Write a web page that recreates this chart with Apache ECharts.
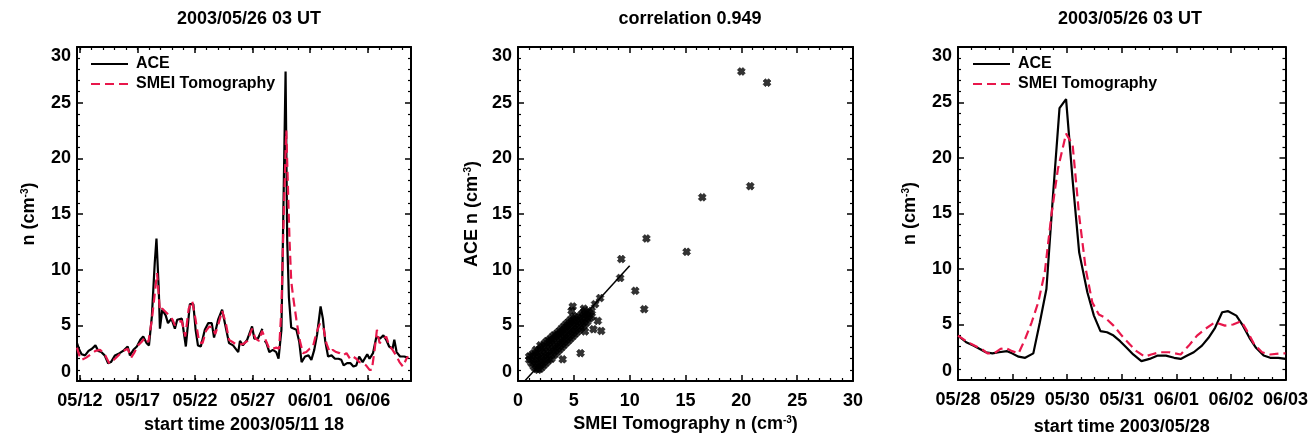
<!DOCTYPE html>
<html><head><meta charset="utf-8">
<script src="https://cdn.jsdelivr.net/npm/echarts@6/dist/echarts.min.js"></script>
<style>html,body{margin:0;padding:0;background:#fff}#c{width:1311px;height:441px}</style>
</head><body><div id="c"></div>
<script>
// ---------------- DATA ----------------
const titleTexts = ['2003/05/26 03 UT', 'correlation 0.949', '2003/05/26 03 UT'];
const seriesNames = ['ACE', 'SMEI Tomography'];

// Panel 1: days since 2003/05/11 18 UT
const p1MajorDays = [0.25, 5.25, 10.25, 15.25, 20.25, 25.25];
const p1MajorLabels = ['05/12', '05/17', '05/22', '05/27', '06/01', '06/06'];
const p1MinorDays = [0.25,1.25,2.25,3.25,4.25,5.25,6.25,7.25,8.25,9.25,10.25,11.25,12.25,13.25,14.25,15.25,16.25,17.25,18.25,19.25,20.25,21.25,22.25,23.25,24.25,25.25,26.25,27.25,28.25];
const p1XName = 'start time 2003/05/11 18';

const aceT1 = [0.0,0.2,0.4,0.7,1.0,1.3,1.6,1.85,2.1,2.4,2.7,2.95,3.3,3.7,4.0,4.4,4.6,4.9,5.2,5.5,5.75,6.05,6.25,6.5,6.75,6.9,7.1,7.2,7.4,7.7,7.9,8.2,8.5,8.7,9.1,9.2,9.45,9.8,10.1,10.3,10.5,10.75,11.1,11.4,11.7,11.9,12.25,12.6,12.9,13.2,13.55,14.0,14.15,14.4,14.77,15.2,15.4,15.7,16.1,16.2,16.3,16.45,16.7,17.0,17.3,17.5,17.75,17.88,18.11,18.25,18.4,18.6,18.75,19.05,19.3,19.5,19.8,20.1,20.35,20.6,20.85,21.15,21.35,21.55,21.8,22.1,22.4,22.7,22.95,23.15,23.45,23.75,24.0,24.25,24.5,24.8,25.2,25.4,25.7,26.0,26.3,26.6,26.85,27.1,27.4,27.55,27.75,28.05,28.4,28.75];
const aceN1 = [3.4,2.8,2.4,2.3,2.7,2.9,3.2,2.7,2.6,2.3,1.6,1.7,2.3,2.5,2.7,3.1,2.3,2.8,3.1,3.7,4.0,3.4,3.2,5.8,10.6,12.8,8.2,4.7,6.4,5.9,5.2,5.6,4.7,5.5,5.6,4.9,3.1,6.9,6.9,4.6,3.2,3.1,4.6,5.2,5.2,3.9,5.5,6.4,4.9,3.4,3.2,2.6,3.6,3.2,3.7,4.9,3.8,3.8,4.7,null,3.6,3.4,2.6,2.8,2.6,2.0,4.6,12.7,27.8,12.7,7.5,4.8,4.7,4.6,3.5,1.7,2.2,2.3,1.9,2.8,4.2,6.7,5.6,3.6,2.2,2.3,2.0,2.0,1.9,1.4,1.6,1.6,1.3,1.4,2.2,1.7,2.4,2.0,2.5,4.0,3.8,4.1,3.7,3.1,2.9,3.7,2.6,2.2,2.2,2.1];

const smeiT1 = [0.0,0.2,0.4,0.8,1.2,1.6,2.0,2.4,2.8,3.3,3.7,4.0,4.4,4.7,5.0,5.3,5.6,5.9,6.2,6.5,6.95,7.2,7.4,7.7,8.0,8.3,8.5,8.8,9.1,9.4,9.7,10.0,10.3,10.6,10.9,11.2,11.5,11.8,12.0,12.3,12.6,12.9,13.2,13.5,13.8,14.1,14.4,14.8,15.2,15.5,15.8,16.07,16.45,16.7,17.0,17.3,17.55,17.75,17.95,18.17,18.45,18.6,18.76,19.05,19.33,19.62,19.91,20.2,20.49,20.78,21.07,21.36,21.65,21.94,22.2,22.5,22.8,23.1,23.4,23.7,23.96,24.25,24.5,24.8,25.1,25.4,25.6,25.84,26.04,26.27,26.56,26.85,27.1,27.4,27.7,28.0,28.3,28.6,28.75];
const smeiN1 = [3.0,2.3,1.9,2.1,2.4,2.7,2.8,2.4,1.6,2.0,2.4,2.7,2.9,2.1,2.6,3.2,3.5,3.9,3.5,5.5,9.7,6.3,6.5,6.2,5.9,5.5,5.0,5.3,5.4,4.0,6.5,7.2,5.5,3.5,3.4,4.5,4.9,4.8,4.2,5.2,6.3,5.3,3.7,3.5,3.3,3.3,3.3,3.6,4.7,3.8,3.6,4.5,3.5,2.9,2.9,3.0,2.9,6.5,15.0,22.5,12.7,9.0,7.6,5.5,3.7,2.5,2.6,2.9,3.1,4.3,5.1,5.0,3.4,2.6,2.8,2.6,2.5,2.3,2.5,2.0,2.2,2.0,1.7,1.6,1.4,1.0,1.0,2.8,4.6,3.4,3.7,4.0,3.2,2.8,2.3,1.7,1.3,2.0,2.2];

// Panel 2: scatter (SMEI tomography n, ACE n)
const scatX = [1.0,1.0,1.2,1.2,1.4,1.4,1.4,1.6,1.6,1.6,1.6,1.8,1.8,1.8,1.8,2.0,2.0,2.0,2.0,2.0,2.2,2.2,2.2,2.2,2.4,2.4,2.4,2.4,2.6,2.6,2.6,2.6,2.8,2.8,2.8,2.8,3.0,3.0,3.0,3.0,3.2,3.2,3.2,3.2,3.4,3.4,3.4,3.4,3.6,3.6,3.6,3.6,3.8,3.8,3.8,3.8,4.0,4.0,4.0,4.0,4.2,4.2,4.2,4.2,4.4,4.4,4.4,4.4,4.6,4.6,4.6,4.6,4.8,4.8,4.8,4.8,5.0,5.0,5.0,5.0,5.2,5.2,5.2,5.4,5.4,5.4,5.6,5.6,5.6,5.8,5.8,5.8,6.0,6.0,6.0,6.2,6.2,6.4,6.4,6.6,6.6,
  4.8,4.9,5.9,6.0,6.9,7.35,7.15,7.45,6.75,5.6,4.0,9.15,9.25,10.5,11.3,11.5,15.1,16.5,20.8,20.0,22.3];
const scatY = [1.9,2.2,1.6,2.3,1.3,1.9,2.5,1.1,1.7,2.3,2.8,1.0,1.5,2.1,2.7,1.1,1.6,2.2,2.9,3.2,1.3,1.9,2.5,3.1,1.5,2.1,2.7,3.4,1.7,2.3,3.0,3.6,1.9,2.5,3.2,3.7,2.0,2.7,3.4,3.9,2.3,2.9,3.6,4.1,2.5,3.1,3.8,4.2,2.7,3.3,4.0,4.4,2.9,3.5,4.2,4.6,3.1,3.7,4.3,4.8,3.3,3.9,4.5,5.0,3.5,4.1,4.7,5.2,3.7,4.3,4.9,5.4,3.9,4.5,5.1,5.6,4.1,4.7,5.3,5.8,4.3,4.9,5.5,4.5,5.1,5.7,4.7,5.3,5.9,4.9,5.5,6.1,5.1,5.7,6.3,5.3,5.9,5.6,6.1,5.8,6.3,
  6.3,6.7,6.5,4.45,6.9,7.45,5.4,4.5,4.65,2.5,1.95,9.25,10.95,8.1,6.45,12.8,11.6,16.5,17.5,27.8,26.8];
const fitX = [0.6, 10.0];
const fitY = [0.0, 10.35];
const p2XName = 'SMEI Tomography n (cm{s|-3})';
const p2YName = 'ACE n (cm{s|-3})';

// Panel 3: days since 2003/05/28 00 UT
const p3Labels = ['05/28', '05/29', '05/30', '05/31', '06/01', '06/02', '06/03'];
const p3XName = 'start time 2003/05/28';
const aceT3 = [0.0,0.15,0.28,0.4,0.51,0.63,0.75,0.9,0.99,1.11,1.23,1.38,1.5,1.62,1.74,1.86,1.98,2.1,2.22,2.37,2.49,2.61,2.73,2.85,2.97,3.09,3.21,3.36,3.51,3.66,3.81,3.96,4.08,4.2,4.32,4.47,4.59,4.71,4.84,4.95,5.1,5.22,5.34,5.46,5.6,5.72,5.87,6.0];
const aceN3 = [4.0,3.4,3.1,2.8,2.5,2.4,2.5,2.6,2.4,2.1,2.0,2.4,5.2,8.2,16.6,24.5,25.3,18.0,11.5,7.9,5.8,4.4,4.3,4.0,3.5,2.9,2.3,1.7,1.9,2.2,2.2,2.0,1.9,2.2,2.5,3.1,3.8,4.7,6.1,6.2,5.8,4.9,3.8,2.9,2.2,2.0,2.0,1.9];
const smeiT3 = [0.0,0.15,0.3,0.43,0.54,0.66,0.78,0.87,0.99,1.11,1.23,1.35,1.47,1.59,1.71,1.83,1.98,2.1,2.22,2.34,2.46,2.58,2.7,2.85,3.0,3.15,3.27,3.42,3.54,3.69,3.87,4.08,4.23,4.38,4.53,4.71,4.89,5.04,5.19,5.31,5.43,5.57,5.72,5.9,6.0];
const smeiN3 = [4.0,3.5,3.1,2.8,2.4,2.4,2.8,2.9,2.6,2.4,3.7,5.2,7.0,9.7,14.8,19.0,22.2,21.2,14.8,10.0,7.0,5.9,5.6,4.9,4.0,3.2,2.6,2.1,2.3,2.5,2.5,2.3,3.1,4.0,4.6,5.2,4.9,5.0,5.3,4.3,3.2,2.5,2.3,2.4,2.4];

const yName = 'n (cm{s|-3})';

// ---------------- OPTION ----------------
const FONT = '"Liberation Sans", Arial, Helvetica, sans-serif';
const RED = '#e8174b';
const pair = (a, b) => a.map((v, i) => [v, b[i]]);
const nameStyle = {
  fontFamily: FONT, fontSize: 18, fontWeight: 'bold', color: '#000',
  rich: { s: { fontFamily: FONT, fontSize: 10, fontWeight: 'bold', color: '#000', verticalAlign: 'top' } }
};
const lblStyle = { fontFamily: FONT, fontSize: 18, fontWeight: 'bold', color: '#000' };
const lineBox = { show: true, onZero: false, lineStyle: { color: '#000', width: 2 } };
const majTick = (extra) => Object.assign({ show: true, inside: true, length: 6, lineStyle: { color: '#000', width: 1.5 } }, extra || {});
const minTick = (n) => ({ show: true, splitNumber: n, length: 3, lineStyle: { color: '#000', width: 1.2 } });

const grids = [
  { left: 77, top: 47, width: 334, height: 334 },
  { left: 518, top: 47, width: 335, height: 334 },
  { left: 958, top: 47, width: 334, height: 334 }
];

function findLabel(v, days, labels) {
  for (let i = 0; i < days.length; i++) if (Math.abs(days[i] - v) < 1e-6) return labels[i];
  return '';
}

const xAxes = [
  // panel 1
  { type: 'value', gridIndex: 0, position: 'bottom', min: 0, max: 29, axisLine: lineBox,
    axisTick: majTick({ customValues: p1MajorDays }),
    axisLabel: Object.assign({ customValues: p1MajorDays, margin: 11, formatter: v => findLabel(v, p1MajorDays, p1MajorLabels) }, lblStyle),
    splitLine: { show: false }, name: p1XName, nameLocation: 'middle', nameGap: 35, nameTextStyle: nameStyle },
  { type: 'value', gridIndex: 0, position: 'bottom', min: 0, max: 29, axisLine: { show: false, onZero: false },
    axisTick: { show: true, inside: true, length: 3, customValues: p1MinorDays, lineStyle: { color: '#000', width: 1.2 } },
    axisLabel: { show: false }, splitLine: { show: false } },
  { type: 'value', gridIndex: 0, position: 'top', min: 0, max: 29, axisLine: lineBox,
    axisTick: majTick({ customValues: p1MajorDays }), axisLabel: { show: false }, splitLine: { show: false } },
  { type: 'value', gridIndex: 0, position: 'top', min: 0, max: 29, axisLine: { show: false, onZero: false },
    axisTick: { show: true, inside: true, length: 3, customValues: p1MinorDays, lineStyle: { color: '#000', width: 1.2 } },
    axisLabel: { show: false }, splitLine: { show: false } },
  // panel 2
  { type: 'value', gridIndex: 1, position: 'bottom', min: 0, max: 30, interval: 5, axisLine: lineBox,
    axisTick: majTick(), minorTick: minTick(5), axisLabel: Object.assign({ margin: 11 }, lblStyle),
    splitLine: { show: false }, name: p2XName, nameLocation: 'middle', nameGap: 28, nameTextStyle: nameStyle },
  { type: 'value', gridIndex: 1, position: 'top', min: 0, max: 30, interval: 5, axisLine: lineBox,
    axisTick: majTick(), minorTick: minTick(5), axisLabel: { show: false }, splitLine: { show: false } },
  // panel 3
  { type: 'value', gridIndex: 2, position: 'bottom', min: 0, max: 6, interval: 1, axisLine: lineBox,
    axisTick: majTick(), minorTick: minTick(4),
    axisLabel: Object.assign({ margin: 11, formatter: v => p3Labels[Math.round(v)] }, lblStyle),
    splitLine: { show: false }, name: p3XName, nameLocation: 'middle', nameGap: 38, nameTextStyle: nameStyle },
  { type: 'value', gridIndex: 2, position: 'top', min: 0, max: 6, interval: 1, axisLine: lineBox,
    axisTick: majTick(), minorTick: minTick(4), axisLabel: { show: false }, splitLine: { show: false } }
];

function yPair(gi, nm, gap) {
  return [
    { type: 'value', gridIndex: gi, position: 'left', min: 0, max: 30, interval: 5, axisLine: lineBox,
      axisTick: majTick(), minorTick: minTick(5),
      axisLabel: Object.assign({ margin: 6, verticalAlignMinLabel: 'bottom', verticalAlignMaxLabel: 'top' }, lblStyle),
      splitLine: { show: false }, name: nm, nameLocation: 'middle', nameGap: gap, nameTextStyle: nameStyle },
    { type: 'value', gridIndex: gi, position: 'right', min: 0, max: 30, interval: 5, axisLine: lineBox,
      axisTick: majTick(), minorTick: minTick(5), axisLabel: { show: false }, splitLine: { show: false } }
  ];
}
const yAxes = [].concat(yPair(0, yName, 39), yPair(1, p2YName, 37), yPair(2, yName, 39));

const xSym = 'path://M0,3 L3,0 L5,2 L7,0 L10,3 L8,5 L10,7 L7,10 L5,8 L3,10 L0,7 L2,5 Z';

const aceStyle = { color: '#000', width: 2.2 };
const smeiStyle = { color: RED, width: 2.2, type: [9, 5] };

const option = {
  animation: false,
  backgroundColor: '#fff',
  title: titleTexts.map((t, i) => ({
    text: t, left: [244, 685, 1125][i], top: 5, textAlign: 'center',
    textStyle: { fontFamily: FONT, fontSize: 18, fontWeight: 'bold', color: '#000' }
  })),
  legend: [90, 972].map(l => ({
    left: l, top: 56, orient: 'vertical', padding: 0, itemWidth: 37, itemHeight: 14, itemGap: 4,
    selectedMode: false, data: seriesNames,
    itemStyle: { opacity: 0 },
    textStyle: { fontFamily: FONT, fontSize: 16, fontWeight: 'bold', color: '#000', padding: [0, 0, 0, 3] }
  })),
  grid: grids,
  xAxis: xAxes,
  yAxis: yAxes,
  series: [
    { name: seriesNames[0], type: 'line', xAxisIndex: 0, yAxisIndex: 0, data: pair(aceT1, aceN1), symbol: 'none', lineStyle: aceStyle, itemStyle: { color: '#000' }, connectNulls: false },
    { name: seriesNames[1], type: 'line', xAxisIndex: 0, yAxisIndex: 0, data: pair(smeiT1, smeiN1), symbol: 'none', lineStyle: smeiStyle, itemStyle: { color: RED } },
    { name: 'pairs', type: 'scatter', xAxisIndex: 4, yAxisIndex: 2, data: pair(scatX, scatY), symbol: xSym, symbolSize: 8, itemStyle: { color: '#000', borderColor: '#000', borderWidth: 0.6 } },
    { name: 'fit', type: 'line', xAxisIndex: 4, yAxisIndex: 2, data: pair(fitX, fitY), symbol: 'none', lineStyle: { color: '#000', width: 1.5 } },
    { name: seriesNames[0], type: 'line', xAxisIndex: 6, yAxisIndex: 4, data: pair(aceT3, aceN3), symbol: 'none', lineStyle: aceStyle, itemStyle: { color: '#000' } },
    { name: seriesNames[1], type: 'line', xAxisIndex: 6, yAxisIndex: 4, data: pair(smeiT3, smeiN3), symbol: 'none', lineStyle: smeiStyle, itemStyle: { color: RED } }
  ]
};

const chart = echarts.init(document.getElementById('c'), null, { renderer: 'canvas' });
chart.setOption(option);
</script>
</body></html>
